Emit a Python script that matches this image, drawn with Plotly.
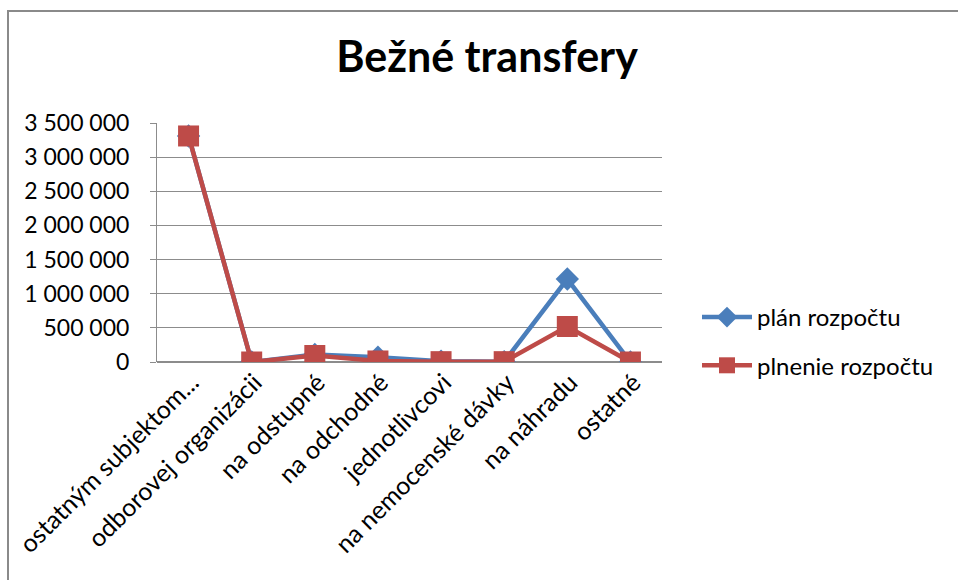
import plotly.graph_objects as go

categories = ["ostatným subjektom...", "odborovej organizácii", "na odstupné", "na odchodné",
              "jednotlivcovi", "na nemocenské dávky", "na náhradu", "ostatné"]
plan_rozpoctu = [3310000, 0, 110000, 70000, 10000, 5000, 1215000, 0]
plnenie_rozpoctu = [3310000, 0, 95000, 15000, 5000, 5000, 520000, 0]
y_ticks = [0, 500000, 1000000, 1500000, 2000000, 2500000, 3000000, 3500000]
y_tick_text = ["0", "500 000", "1 000 000", "1 500 000", "2 000 000", "2 500 000", "3 000 000", "3 500 000"]

FONT = "Lato, 'Open Sans', sans-serif"
W, H = 958, 580
L, R, T, B = 157, 296, 123, 218
pw, ph = W - L - R, H - T - B

def px_x(p):
    return (p - L) / pw

def px_y(p):
    return (H - B - p) / ph

fig = go.Figure()
fig.add_trace(go.Scatter(
    x=categories, y=plan_rozpoctu, name="plán rozpočtu", mode="lines+markers",
    line=dict(color="#4A7EBB", width=4.5),
    marker=dict(symbol="diamond", size=18, color="#4A7EBB"),
    legendgroup="a",
))
fig.add_trace(go.Scatter(
    x=categories, y=plnenie_rozpoctu, name="plnenie rozpočtu", mode="lines+markers",
    line=dict(color="#BE4B48", width=4.5),
    marker=dict(symbol="square", size=21, color="#BE4B48"),
    legendgroup="b",
))

fig.update_layout(
    width=W, height=H,
    margin=dict(l=L, r=R, t=T, b=B, autoexpand=False),
    paper_bgcolor="white", plot_bgcolor="white",
    font=dict(family=FONT, size=22, color="#000000"),
    title=dict(text="<b>Bežné transfery</b>", x=487 / W, xanchor="center", xref="container",
               y=1 - 57 / H, yanchor="middle", yref="container",
               font=dict(family=FONT, size=43, color="#000000")),
    showlegend=True,
    legend=dict(x=px_x(697), xanchor="left", y=px_y(295), yanchor="top",
                font=dict(family=FONT, size=24, color="#000000"),
                tracegroupgap=14, bgcolor="rgba(0,0,0,0)", itemwidth=50),
    xaxis=dict(type="category", range=[-0.5, 7.5], showgrid=False,
               showline=False, tickangle=-45, ticks="", ticklabelshift=3,
               tickfont=dict(family=FONT, size=25)),
    yaxis=dict(range=[0, 3500000], tickvals=y_ticks, ticktext=y_tick_text,
               showgrid=True, gridcolor="#8C8C8C", gridwidth=1,
               showline=True, linecolor="#8C8C8C", linewidth=1,
               ticks="outside", ticklen=6, tickcolor="#8C8C8C",
               ticklabelstandoff=16, zeroline=True, zerolinecolor="#8C8C8C",
               tickfont=dict(family=FONT, size=23)),
    shapes=[dict(type="rect", xref="paper", yref="paper",
                 x0=px_x(8), x1=px_x(1000), y0=px_y(1000), y1=px_y(11),
                 line=dict(color="#8A8A8A", width=2), fillcolor="rgba(0,0,0,0)",
                 layer="below")],
)

fig.write_html(
    "out.html",
    config={"displayModeBar": False},
    post_script="document.body.style.margin='0';document.body.style.overflow='hidden';",
)
